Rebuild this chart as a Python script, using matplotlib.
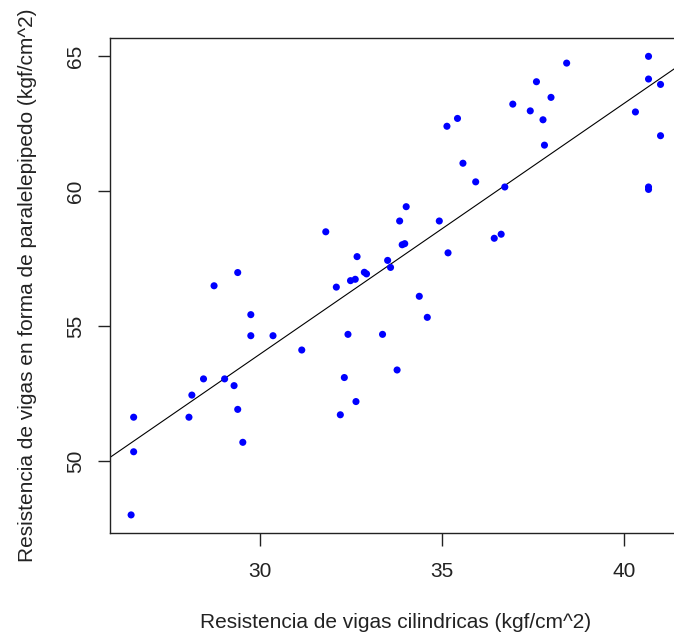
import numpy as np
import matplotlib
matplotlib.use("Agg")
import matplotlib.pyplot as plt

plt.rcParams['font.family'] = ['Liberation Sans', 'DejaVu Sans']

# Resistencia de vigas cilindricas (x) y en forma de paralelepipedo (y)
cilindricas = [31.81, 32.67, 33.51, 29.39, 28.74, 32.10, 32.49, 32.62, 32.87, 32.93,
               29.75, 29.75, 30.36, 31.15, 32.42, 33.37, 32.32, 32.64, 32.21, 28.45,
               29.03, 29.29, 28.13, 26.53, 28.05, 29.39, 29.53, 26.53, 26.46, 38.43,
               40.68, 40.68, 41.01, 37.60, 38.00, 36.95, 37.43, 37.78, 40.32, 37.82,
               41.01, 35.43, 35.14, 35.58, 35.93, 36.73, 40.68, 40.68, 34.02, 33.84,
               34.93, 33.91, 33.98, 36.44, 36.63, 35.17, 33.59, 34.38, 34.60, 33.77]
paralelepipedo = [58.49, 57.57, 57.43, 56.98, 56.49, 56.44, 56.68, 56.73, 56.99, 56.93,
                  55.42, 54.64, 54.64, 54.11, 54.69, 54.69, 53.09, 52.20, 51.71, 53.04,
                  53.04, 52.79, 52.44, 51.62, 51.62, 51.91, 50.69, 50.34, 48.00, 64.74,
                  64.99, 64.15, 63.95, 64.05, 63.47, 63.22, 62.97, 62.64, 62.93, 61.70,
                  62.05, 62.69, 62.40, 61.03, 60.34, 60.15, 60.15, 60.06, 59.42, 58.89,
                  58.89, 58.01, 58.05, 58.25, 58.40, 57.71, 57.17, 56.10, 55.32, 53.37]
x_ticks = [30, 35, 40]
y_ticks = [50, 55, 60, 65]

x = np.array(cilindricas)
y = np.array(paralelepipedo)

fig = plt.figure(figsize=(6.74, 6.38), dpi=100)
W, H = 674, 638
left, right, top, bottom = 110, 682, 38, 533
ax = fig.add_axes([left / W, 1 - bottom / H, (right - left) / W, (bottom - top) / H])

ax.scatter(x, y, s=26, color='#0000ff', edgecolors='none', zorder=3)

slope, intercept = np.polyfit(x, y, 1)
xl = np.array([25.0, 43.0])
ax.plot(xl, intercept + slope * xl, color='black', lw=0.8, zorder=2)

ax.set_xlim(25.88, 41.6)
ax.set_ylim(47.33, 65.67)
ax.set_xticks(x_ticks)
ax.set_yticks(y_ticks)
ax.set_yticklabels([str(v) for v in y_ticks], rotation=90, va='center')
ax.tick_params(axis='both', length=9, width=1, labelsize=15, colors='#222222', labelcolor='#222222')
ax.tick_params(axis='x', pad=12)
ax.tick_params(axis='y', pad=9)
for sp in ax.spines.values():
    sp.set_linewidth(1)
    sp.set_color('#222222')

ax.set_xlabel('Resistencia de vigas cilindricas (kgf/cm^2)', fontsize=15, color='#222222', labelpad=23)
ax.set_ylabel('Resistencia de vigas en forma de paralelepipedo (kgf/cm^2)', fontsize=15, color='#222222', labelpad=21)

fig.savefig('out.png', dpi=100)
